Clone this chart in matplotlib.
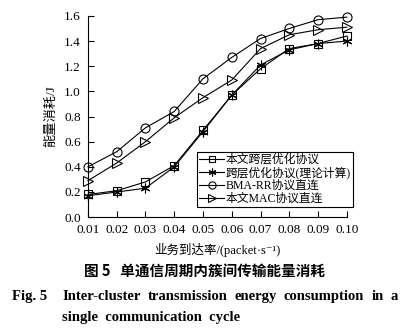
import matplotlib
matplotlib.use("Agg")
import matplotlib.pyplot as plt

plt.rcParams['font.family'] = ['Liberation Serif', 'Noto Sans CJK SC', 'DejaVu Serif']

# 业务到达率
rate = [0.01, 0.02, 0.03, 0.04, 0.05, 0.06, 0.07, 0.08, 0.09, 0.10]
# 能量消耗
cross_layer = [0.18, 0.21, 0.28, 0.41, 0.69, 0.97, 1.18, 1.34, 1.38, 1.44]
cross_theory = [0.17, 0.20, 0.23, 0.40, 0.68, 0.97, 1.21, 1.33, 1.38, 1.40]
bma_rr = [0.40, 0.52, 0.71, 0.84, 1.10, 1.27, 1.42, 1.50, 1.57, 1.59]
mac_direct = [0.29, 0.43, 0.60, 0.79, 0.95, 1.09, 1.34, 1.45, 1.49, 1.51]
labels = ["本文跨层优化协议", "跨层优化协议(理论计算)", "BMA-RR协议直连", "本文MAC协议直连"]
yticks = [0.0, 0.2, 0.4, 0.6, 0.8, 1.0, 1.2, 1.4, 1.6]

fig = plt.figure(figsize=(4.09, 3.31), dpi=100)
ax = fig.add_axes([0.215, 0.344, 0.633, 0.608])

kw = dict(color='k', lw=0.8, mew=0.8, clip_on=False)
ax.plot(rate, cross_layer, marker='s', mfc='none', ms=5.5, label=labels[0], **kw)
ax.plot(rate, cross_theory, marker=(6, 2, 0), ms=7, label=labels[1], **kw)
ax.plot(rate, bma_rr, marker='o', mfc='none', ms=6.5, label=labels[2], **kw)
ax.plot(rate, mac_direct, marker='>', mfc='none', ms=7.5, label=labels[3], **kw)

ax.set_xlim(0.01, 0.10)
ax.set_ylim(0, 1.6)
ax.set_xticks(rate)
ax.set_xticklabels(["%.2f" % r for r in rate])
ax.set_yticks(yticks)
ax.set_yticklabels(["%.1f" % v for v in yticks])
ax.tick_params(direction='in', labelsize=9.5, length=4, width=0.8, pad=5)
ax.spines['top'].set_visible(False)
ax.spines['right'].set_visible(False)
for s in ['left', 'bottom']:
    ax.spines[s].set_linewidth(0.8)

ax.set_xlabel("业务到达率/(packet·s⁻¹)", fontsize=9, labelpad=5)
ax.set_ylabel("能量消耗/J", fontsize=9.5, labelpad=5)

leg = ax.legend(loc='lower right', bbox_to_anchor=(1.025, 0.05), fontsize=8.5,
                frameon=True, fancybox=False, edgecolor='black', framealpha=1,
                handlelength=2.1, handletextpad=0.15, labelspacing=0.05,
                borderpad=0.2, borderaxespad=0, markerscale=0.8)
leg.get_frame().set_linewidth(0.8)

fig.text(0.5, 0.183, "图 5   单通信周期内簇间传输能量消耗", ha='center', va='center',
         fontsize=10.5, family=['Noto Sans CJK SC'], weight='bold')
fig.text(0.03, 0.105, "Fig. 5", fontsize=10.5, weight='bold', va='center')

# 英文图题第一行两端对齐
words = "Inter-cluster transmission energy consumption in a".split()
r = fig.canvas.get_renderer()
x0, x1 = 62 / 409, 398 / 409
objs = [fig.text(0, 0.105, w, fontsize=10.5, weight='bold', va='center') for w in words]
widths = [o.get_window_extent(r).width / 409 for o in objs]
gap = (x1 - x0 - sum(widths)) / (len(words) - 1)
x = x0
for o, w in zip(objs, widths):
    o.set_x(x)
    x += w + gap
fig.text(x0, 0.04, "single  communication  cycle", fontsize=10.5, weight='bold', va='center')

fig.savefig("out.png", dpi=100)
